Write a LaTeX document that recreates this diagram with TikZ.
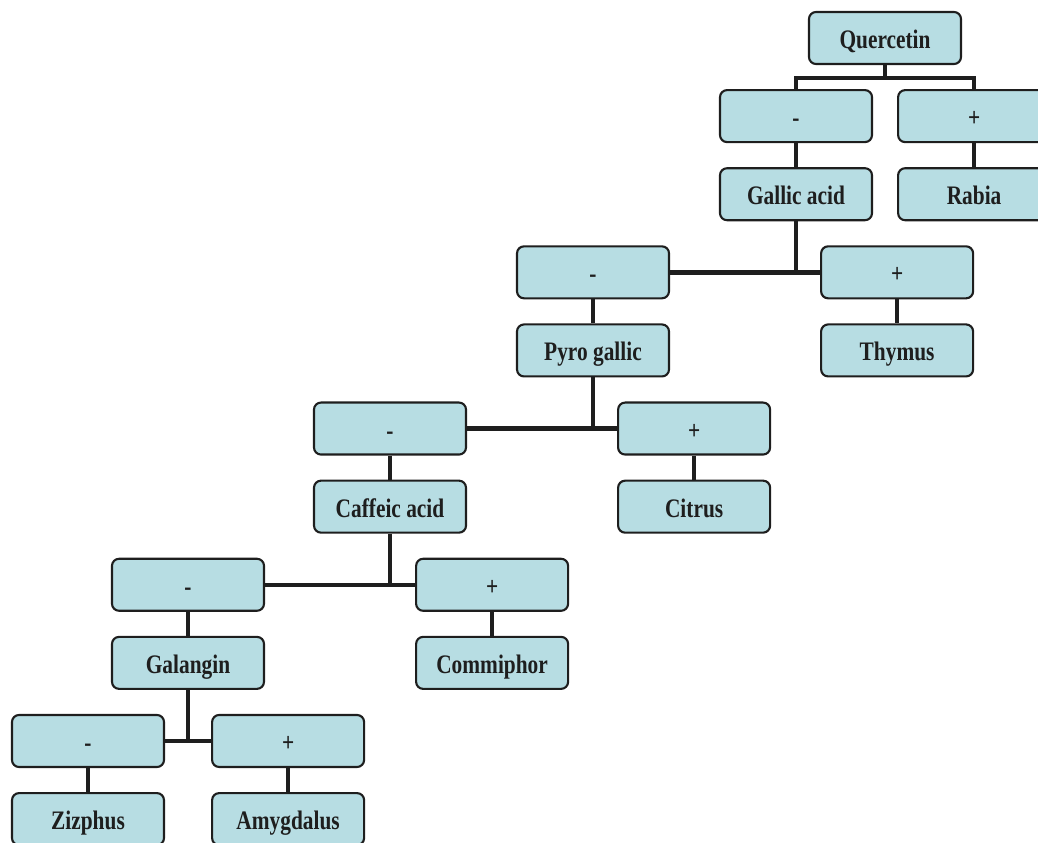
\documentclass[tikz,border=0pt]{standalone}
\usepackage{fontspec}
\setmainfont[FakeStretch=0.8]{Liberation Serif}
\usetikzlibrary{positioning}
\definecolor{BoxFill}{HTML}{B7DDE3}
\definecolor{Ink}{HTML}{1E1E1E}

\begin{document}
\begin{tikzpicture}[
  node distance=0.6cm and 3.75cm,
  every node/.style={font=\fontsize{19}{22}\selectfont\bfseries,text=Ink},
  box/.style={draw=Ink,line width=1.5pt,rounded corners=5pt,fill=BoxFill,align=center,minimum width=3.8cm,minimum height=1.3cm,inner sep=0pt,text height=15pt,text depth=0pt},
  link/.style={line width=3.2pt,color=Ink}
]
\useasboundingbox (0,0) rectangle (25.95,-21.075);
\clip (0,0) rectangle (25.95,-21.075);
% root and first split
\node[box] (quer) at (22.125,-0.95) {Quercetin};
\node[box,below=of quer,xshift=-2.225cm] (m1) {-};
\node[box,right=0.6cm of m1] (p1) {+};
\node[box,below=of m1] (gallic) {Gallic acid};
\node[box,below=of p1] (rabia) {Rabia};
% second split
\node[box,below=of gallic,xshift=-5.075cm] (m2) {-};
\node[box,right=of m2] (p2) {+};
\node[box,below=of m2] (pyro) {Pyro gallic};
\node[box,below=of p2] (thymus) {Thymus};
% third split
\node[box,below=of pyro,xshift=-5.075cm] (m3) {-};
\node[box,right=of m3] (p3) {+};
\node[box,below=of m3] (caffeic) {Caffeic acid};
\node[box,below=of p3] (citrus) {Citrus};
% fourth split
\node[box,below=of caffeic,xshift=-5.05cm] (m4) {-};
\node[box,right=of m4] (p4) {+};
\node[box,below=of m4] (galangin) {Galangin};
\node[box,below=of p4] (commiphor) {Commiphor};
% last split
\node[box,below=of galangin,xshift=-2.5cm] (m5) {-};
\node[box,right=1.15cm of m5] (p5) {+};
\node[box,below=of m5] (zizphus) {Zizphus};
\node[box,below=of p5] (amygdalus) {Amygdalus};
% connectors
\draw[link] (quer.south) -- ++(0,-0.32) coordinate (j1);
\draw[link] (m1.north) |- (j1) -| (p1.north);
\draw[link] (m1) -- (gallic);
\draw[link] (p1) -- (rabia);
\draw[link] (m2.east) -- (p2.west);
\draw[link] (gallic) -- (gallic |- m2.east);
\draw[link] (m2) -- (pyro);
\draw[link] (p2) -- (thymus);
\draw[link] (m3.east) -- (p3.west);
\draw[link] (pyro) -- (pyro |- m3.east);
\draw[link] (m3) -- (caffeic);
\draw[link] (p3) -- (citrus);
\draw[link] (m4.east) -- (p4.west);
\draw[link] (caffeic) -- (caffeic |- m4.east);
\draw[link] (m4) -- (galangin);
\draw[link] (p4) -- (commiphor);
\draw[link] (m5.east) -- (p5.west);
\draw[link] (galangin) -- (galangin |- m5.east);
\draw[link] (m5) -- (zizphus);
\draw[link] (p5) -- (amygdalus);
\end{tikzpicture}
\end{document}
